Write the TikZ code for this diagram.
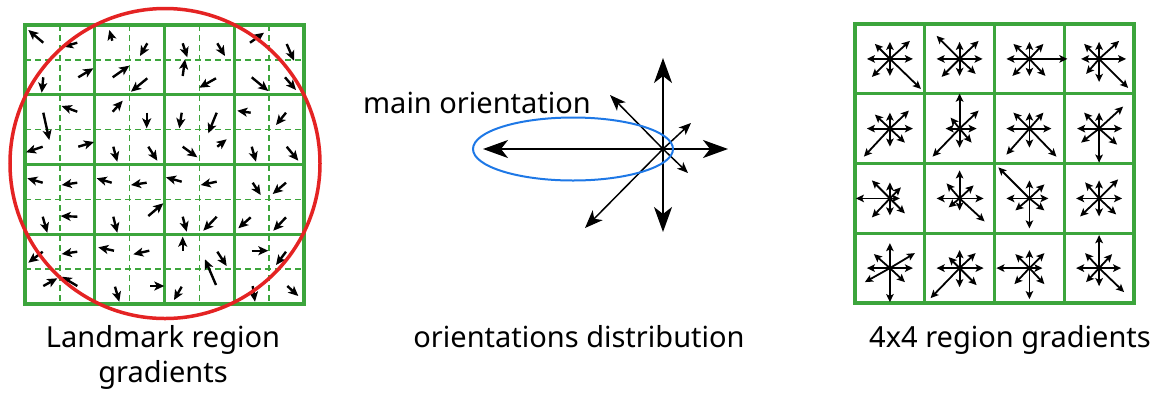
\documentclass[tikz,border=0pt]{standalone}
\usepackage{fontspec}
\setmainfont{Noto Sans}
\usetikzlibrary{arrows.meta}
\definecolor{gridgreen}{RGB}{60,165,60}
\definecolor{ringred}{RGB}{228,35,35}
\definecolor{ellblue}{RGB}{30,120,230}
\begin{document}
\begin{tikzpicture}[x=1pt,y=-1pt,
  thickgrid/.style={draw=gridgreen,line width=3.3pt,line cap=rect},
  dashgrid/.style={draw=gridgreen,line width=1.6pt,dash pattern=on 6pt off 4pt},
  garrow/.style={line width=2.4pt,-{Stealth[length=10pt,width=9pt,inset=2.5pt]}},
  sarrow/.style={line width=1.8pt,-{Stealth[length=8pt,width=7.5pt,inset=1.8pt]}},
  bigarrow/.style={line width=2pt,-{Stealth[length=25pt,width=18pt,inset=7pt]}},
  lbl/.style={font=\fontsize{29}{35}\selectfont,inner sep=0pt}]
\useasboundingbox (0,0) rectangle (1158,392);
% ---------- left grid ----------
\foreach \i in {0,...,3} {
  \draw[dashgrid] (59.875+69.75*\i,25) -- (59.875+69.75*\i,304);
  \draw[dashgrid] (25,59.875+69.75*\i) -- (304,59.875+69.75*\i);
}
\foreach \i in {0,...,4} {
  \draw[thickgrid] (25+69.75*\i,25) -- (25+69.75*\i,304);
  \draw[thickgrid] (25,25+69.75*\i) -- (304,25+69.75*\i);
}
\foreach \xa/\ya/\xb/\yb in {
43.3/42.7/28.3/30, 77.3/42.7/63.3/46.7, 43.3/77.3/41.7/92.7, 78.3/77.3/93.3/68.3,
112.3/40.7/109.3/30, 147.3/43.3/140/56, 112.7/77.3/129.3/65.7, 147.3/78.3/131/91.7,
43.3/112.7/49.3/140, 77.3/111.7/61.7/106, 42.7/146.7/26/152.3, 78.3/146.7/94/142,
112.7/111.7/122.7/100.7, 146.7/112.7/146.7/128.3, 113.3/146.7/117.3/161.7, 148.3/146.7/157.3/160.7,
182.7/43.3/187.3/57.3, 182.7/76/185/59.3, 217.3/43.3/225/56, 216/78.3/199.3/87.7,
250/42.7/264/32.7, 286.7/44/294/60.7, 251.7/77.3/268.3/91, 285/77.3/296/90,
181.7/112.7/179.3/128.3, 216.7/112.7/208.3/133.3, 250.7/112.7/237.3/110.7, 286/112.7/276/125,
182.7/146.7/197.3/157.3, 217.3/146.7/226.7/139.3, 251.7/146.7/256/161.7, 286.7/146.7/298.3/160.7,
42.7/182.7/27.3/178.3, 77.3/182.7/61.7/185, 111.7/182.7/96.7/178.3, 146.7/182.7/131/185,
42.7/216.7/47.3/232.7, 77.3/216.7/60.7/216, 113.3/216.7/117.3/232.7, 148.3/216/163.3/203.3,
42.7/251.7/28.3/262.7, 77.3/251.7/61.7/254, 114/250.7/98.3/247.3, 149.3/250.7/133.3/254.3,
43.3/286/57.3/278.3, 77.3/286/61.7/276.7, 115/286.7/119.3/301.7, 150/286/164.3/286,
181.7/181.7/166/177.3, 216.7/181.7/200.7/185, 252.7/182.7/260.7/195, 286/182.7/272.7/194,
182.7/216.7/186.7/231.7, 216.7/216.7/203.3/230.7, 250.7/217.3/238.3/228.3, 286/217.3/273.3/230.7,
182.7/250.7/182.7/236.7, 217.3/251.7/226.7/266, 216/285/205/259.3, 251.7/250.7/268.3/250.7,
286/251.7/276/265, 181.7/286.7/174/300, 252.7/286/255/301.7, 287.3/286/298.3/296}
  \draw[garrow] (\xa,\ya) -- (\xb,\yb);
\draw[ringred,line width=3.5pt] (165,163.5) circle[radius=155];
\node[lbl,align=center] (lefttext) at (163,357) {Landmark region\\gradients};
% ---------- middle ----------
\coordinate (o) at (663,149);
\coordinate (tw) at (483,149);
\coordinate (te) at (728,149);
\coordinate (tn) at (663,58);
\coordinate (ts) at (663,232);
\coordinate (tnw) at (610,95);
\coordinate (tsw) at (585,228);
\coordinate (tne) at (691,123);
\coordinate (tse) at (688,173);
\draw[bigarrow] (o) -- (tw);
\draw[bigarrow] (o) -- (te);
\draw[bigarrow] (o) -- (tn);
\draw[bigarrow] (o) -- (ts);
\draw[line width=1.5pt,-{Stealth[length=16pt,width=12pt,inset=4pt]}] (o) -- (tnw);
\draw[line width=1.5pt,-{Stealth[length=18pt,width=14pt,inset=5pt]}] (o) -- (tsw);
\draw[line width=1.5pt,-{Stealth[length=12pt,width=10pt,inset=3pt]}] (o) -- (tne);
\draw[line width=1.5pt,-{Stealth[length=11pt,width=9pt,inset=3pt]}] (o) -- (tse);
\draw[ellblue,line width=2pt] (573,149) ellipse[x radius=100,y radius=31.5];
\node[lbl,anchor=base] (maintext) at (477,113) {main orientation};
\node[lbl,anchor=base] (midtext) at (579,347) {orientations distribution};
% ---------- right grid ----------
\foreach \i in {0,...,4} {
  \draw[thickgrid] (855+69.75*\i,24) -- (855+69.75*\i,303);
  \draw[thickgrid] (855,24+69.75*\i) -- (1134,24+69.75*\i);
}
\foreach \cx/\cy/\vecs in {
 889.9/58.9/{23/0,20/-18,0/-17,-15/-15,-23/0,-18/18,0/17,31/30},
 959.6/58.9/{23/0,19/-18,0/-17,-23/-23,-23/0,-18/18,0/17,16/15},
 1029.4/58.9/{38/0,14/-15,0/-17,-16/-15,-23/0,-17/17,0/17,16/17},
 1099.1/58.9/{27/0,20/-18,0/-17,-15/-15,-18/0,-13/15,0/23,29/29},
 889.9/128.6/{23/0,19/-18,0/-16,-15/-14,-23/0,-26/28,0/18,15/14},
 959.6/128.6/{17/0,19/-18,0/-35,-9/-11,-14/0,-27/28,0/19,12/14},
 1029.4/128.6/{22/0,14/-16,0/-16,-16/-16,-23/0,-23/26,0/19,27/28},
 1099.1/128.6/{23/0,24/-22,0/-16,-15/-16,-22/0,-18/14,0/34,18/16},
 889.9/198.4/{10/0,11/-11,0/-16,-18/-18,-34/0,-18/19,0/17,15/15},
 959.6/198.4/{24/0,14/-13,0/-28,-13/-15,-23/0,-11/9,0/12,25/23},
 1029.4/198.4/{19/0,15/-14,0/-18,-31/-31,-23/0,-14/12,0/30,15/12},
 1099.1/198.4/{23/0,19/-19,0/-18,-14/-16,-23/0,-19/18,0/18,17/16},
 889.9/268.1/{23/0,25/-15,0/-25,-16/-14,-23/0,-25/14,0/34,15/14},
 959.6/268.1/{24/0,16/-15,0/-18,-11/-11,-23/0,-29/30,0/19,17/17},
 1029.4/268.1/{13/0,15/-15,0/-18,-14/-14,-33/0,-15/16,0/31,15/16},
 1099.1/268.1/{22/0,13/-14,0/-33,-14/-15,-23/0,-13/14,0/18,25/24}}
{
  \foreach \dx/\dy in \vecs
    \draw[sarrow] (\cx,\cy) -- ++(\dx,\dy);
}
\node[lbl,anchor=base] (righttext) at (1010,347) {4x4 region gradients};
\end{tikzpicture}
\end{document}
